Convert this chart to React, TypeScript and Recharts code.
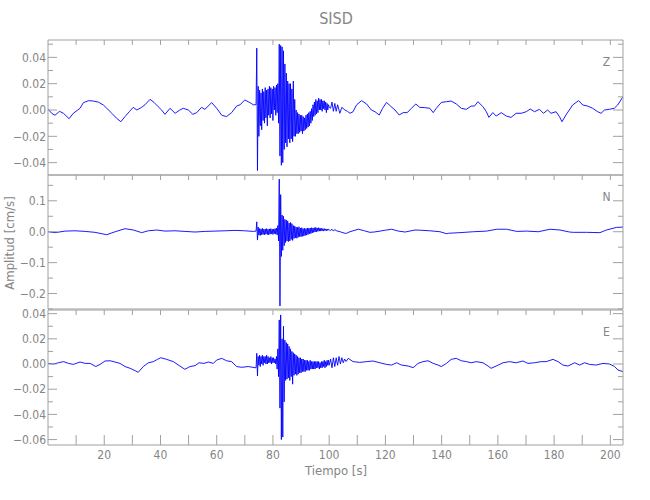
import { LineChart, Line, XAxis, YAxis } from "recharts";

const BLUE = "#0000ff";
const AXIS = "#a0a0a0";
const TEXT = "#858585";
const FONT = "'Liberation Sans Narrow', 'DejaVu Sans Condensed', 'Liberation Sans', sans-serif";

// burst section is sampled every 0.25 s from 74 s
const BURST_START = 74;
const BURST_STEP = 0.25;
const T_MAX = 204.5;

const xTicks = [10, 20, 30, 40, 50, 60, 70, 80, 90, 100, 110, 120, 130, 140, 150, 160, 170, 180, 190, 200];
const xLabeled = [20, 40, 60, 80, 100, 120, 140, 160, 180, 200];

const zTicks = [-0.04, -0.03, -0.02, -0.01, 0, 0.01, 0.02, 0.03, 0.04, 0.05];
const zLabeled = [-0.04, -0.02, 0, 0.02, 0.04];
const nTicks = [-0.25, -0.2, -0.15, -0.1, -0.05, 0, 0.05, 0.1, 0.15];
const nLabeled = [-0.2, -0.1, 0, 0.1];
const eTicks = [-0.06, -0.05, -0.04, -0.03, -0.02, -0.01, 0, 0.01, 0.02, 0.03, 0.04];
const eLabeled = [-0.06, -0.04, -0.02, 0, 0.02, 0.04];

// ---- Z component ----
const zPre: [number, number][] = [
  [0, 0.0008], [1.3, -0.0025], [2.5, -0.004], [4.1, -0.001], [5.5, -0.0025], [7.5, -0.0066], [9, -0.0025],
  [11.4, 0.0013], [12.6, 0.0056], [14.4, 0.0071], [16.1, 0.0068], [17.9, 0.006], [19.7, 0.0038], [20.9, 0.0013],
  [22.7, -0.0025], [24.4, -0.0063], [25.9, -0.0089], [27.4, -0.005], [28.9, -0.0013], [30.3, 0.002], [31.6, 0],
  [33.3, 0.002], [34.5, 0.004], [36.3, 0.0081], [37.7, 0.0058], [39.2, 0.0025], [40.4, 0], [41.6, -0.0033],
  [43.4, 0.0013], [45.2, -0.0025], [46.9, 0], [48.1, 0.0013], [49.9, 0], [51.5, -0.0033], [52.9, -0.002],
  [54.6, 0.002], [55.8, 0.0005], [58.2, 0.0056], [60, 0.0013], [61.8, -0.004], [63.5, -0.005], [65.3, -0.002],
  [67.1, 0.003], [68.3, 0.004], [70, 0.0076], [71.8, 0.0056], [73, 0.004],
];
const zBurst = [
  0.004, 0.047, -0.046, 0.018,
  -0.02, 0.015, -0.012, 0.013,
  -0.015, 0.016, -0.008, 0.014,
  -0.01, 0.017, -0.006, 0.015,
  -0.012, 0.016, -0.004, 0.018,
  -0.006, 0.017, -0.003, 0.016,
  -0.008, 0.018, 0.0, 0.017,
  -0.004, 0.019, -0.002, 0.02,
  -0.01, 0.05, -0.035, 0.049,
  -0.042, 0.048, -0.04, 0.045,
  -0.03, 0.035, -0.025, 0.028,
  -0.028, 0.022, -0.022, 0.02,
  -0.025, 0.02, -0.022, 0.016,
  -0.024, 0.022, -0.02, 0.008,
  -0.02, 0.0, -0.018, -0.002,
  -0.018, -0.003, -0.017, -0.004,
  -0.016, -0.004, -0.018, -0.005,
  -0.016, -0.006, -0.015, -0.004,
  -0.014, -0.003, -0.013, -0.002,
  -0.012, -0.001, -0.01, 0.001,
  -0.008, 0.004, -0.005, 0.006,
  -0.004, 0.008, -0.003, 0.007,
  -0.002, 0.009, 0.0, 0.008,
  0.0, 0.008, -0.001, 0.007,
  0.001, 0.007, 0.0, 0.006,
  -0.002, 0.005, 0.0, 0.004,
  0.002,
];
const zPost: [number, number][] = [
  [100.5, 0.0013], [101, 0.006], [101.5, -0.001], [102, 0.005], [102.5, -0.001], [103, 0.004], [103.8, -0.0025],
  [104.5, 0.002], [105.6, 0], [106.5, -0.001], [107.4, -0.0025], [108.5, -0.0013], [109.7, 0.0038], [111.5, 0.0071],
  [113.3, 0.0046], [115, 0], [116.3, -0.0013], [117.8, -0.0038], [119, 0.0013], [120.4, 0.0058], [121.8, 0.003],
  [123.4, 0], [124.9, -0.0038], [126.3, -0.002], [127.7, -0.002], [129.3, 0.0013], [130.8, 0.0046], [132.2, 0.002],
  [134, 0.0018], [135.8, 0.0013], [137, -0.002], [138.1, 0.0013], [139.9, 0.0058], [141.7, 0.0063], [143.4, 0.0068],
  [145.2, 0.0046], [147, 0.0013], [148.8, 0.0005], [150.5, 0.003], [151.7, 0.003], [152.9, 0.0063], [154.7, 0.0025],
  [155.9, -0.0013], [156.8, -0.0056], [158.2, -0.002], [159.4, -0.0046], [161.2, -0.002], [163, -0.0046],
  [164.7, -0.0056], [166.5, -0.0025], [168.3, -0.0025], [170.1, -0.0013], [171.5, 0.0008], [173, -0.0013],
  [174.8, 0.0005], [176.2, -0.0025], [177.7, 0], [178.9, -0.0025], [180.7, -0.0013], [181.9, -0.005], [182.8, -0.0089],
  [184.2, -0.0038], [186.6, 0.0038], [188.7, 0.0071], [190.2, 0.0038], [191.9, 0.003], [193.7, 0.0013],
  [195.5, -0.0013], [196.7, -0.0025], [197.9, 0], [199.6, 0.0005], [201.4, 0.0013], [202.6, 0.0038], [204.5, 0.0101],
];

// ---- N component ----
const nPre: [number, number][] = [
  [0, 0], [2.5, -0.003], [6.1, 0.002], [9.6, 0.003], [13.2, 0.001], [16.7, -0.002], [20.9, -0.0096], [23.9, 0],
  [27.4, 0.0098], [30.4, 0.0055], [33.3, -0.003], [35.7, 0.003], [38.7, 0.0055], [41.6, 0.002], [45.2, 0.003],
  [48.7, 0.001], [52.3, -0.001], [55.8, 0.001], [59.4, 0.002], [63, 0.003], [66.5, 0.0044], [70, 0.003], [73, 0.001],
];
const nBurst = [
  0.002, 0.032, -0.027, 0.015,
  -0.011, 0.01, -0.012, 0.009,
  -0.01, 0.011, -0.009, 0.008,
  -0.01, 0.009, -0.008, 0.01,
  -0.009, 0.008, -0.01, 0.009,
  -0.008, 0.01, -0.007, 0.008,
  -0.009, 0.009, -0.006, 0.01,
  -0.008, 0.012, -0.01, 0.02,
  -0.03, 0.17, -0.24, 0.12,
  -0.08, 0.054, -0.06, 0.05,
  -0.045, 0.04, -0.035, 0.038,
  -0.03, 0.035, -0.032, 0.028,
  -0.03, 0.03, -0.025, 0.026,
  -0.028, 0.02, -0.022, 0.018,
  -0.02, 0.015, -0.021, 0.014,
  -0.018, 0.016, -0.016, 0.012,
  -0.016, 0.013, -0.015, 0.01,
  -0.014, 0.011, -0.012, 0.01,
  -0.011, 0.012, -0.009, 0.011,
  -0.007, 0.012, -0.006, 0.013,
  -0.004, 0.012, -0.002, 0.013,
  -0.001, 0.014, 0.0, 0.012,
  0.001, 0.013, 0.002, 0.012,
  0.002, 0.011, 0.003, 0.01,
  0.002, 0.01, 0.004, 0.009,
  0.003, 0.009, 0.004, 0.008,
  0.006,
];
const nPost: [number, number][] = [
  [100.5, 0.004], [101, 0.008], [101.5, 0.002], [102, 0.007], [102.6, 0.003], [103.5, 0.001], [104.5, -0.002],
  [105.6, -0.005], [106.2, -0.005], [107.4, 0], [108.5, 0.003], [110.4, 0.008], [112.5, 0.003], [114.5, -0.002],
  [116, -0.001], [118.1, 0.002], [120, 0.005], [122.2, 0.008], [124.6, 0.002], [127, -0.001], [130.5, 0.0055],
  [132.2, 0.005], [135.8, 0.003], [139.4, 0], [141.7, -0.0064], [142.4, -0.005], [146.5, -0.003], [151.3, 0],
  [156, 0.002], [159.6, 0.008], [163.1, 0.008], [166.7, 0.001], [170.2, 0.002], [174.4, 0], [178.5, 0.008],
  [182.1, 0.0055], [185.5, -0.001], [186.8, -0.002], [191.5, -0.002], [196.3, -0.003], [198.6, 0.0055],
  [202.2, 0.014], [204.5, 0.015],
];

// ---- E component ----
const ePre: [number, number][] = [
  [0, 0.0005], [1.9, 0], [3.7, 0.001], [5.5, 0.0019], [7.3, 0.0005], [9, -0.0003], [11.4, 0.0016], [13.2, 0.0005],
  [15, 0.0005], [17, -0.002], [18.5, -0.0003], [20.3, 0.0024], [22.1, 0.0026], [23.8, 0.0016], [25.6, 0.0005],
  [27.4, -0.002], [29.2, -0.0034], [31, -0.0053], [32.1, -0.0066], [33.9, -0.002], [35.7, 0.001], [37.5, 0.0019],
  [38.9, 0.0037], [40.1, 0.005], [42.2, 0.0037], [44.6, 0.0019], [46.9, -0.0016], [48.7, -0.0042], [50.5, -0.002],
  [52.3, -0.0013], [53.7, 0.001], [55.5, 0.0005], [57, 0.0016], [58.8, 0.0005], [60, 0.0032], [61.8, 0.0045],
  [63.5, 0.0026], [65.3, 0.0019], [67.1, -0.002], [68.9, -0.0026], [71.2, -0.002], [73.6, -0.0029],
];
const eBurst = [
  -0.003, 0.0085, -0.0095, 0.006,
  -0.001, 0.007, -0.002, 0.006,
  0.0, 0.007, -0.001, 0.006,
  0.001, 0.006, 0.0, 0.007,
  0.0, 0.006, 0.001, 0.005,
  0.001, 0.006, 0.0, 0.005,
  0.001, 0.005, 0.001, 0.004,
  0.0, 0.006, -0.004, 0.012,
  -0.01, 0.035, -0.035, 0.039,
  -0.06, 0.02, -0.058, 0.03,
  -0.03, 0.019, -0.013, 0.017,
  -0.012, 0.016, -0.011, 0.014,
  -0.013, 0.012, -0.01, 0.01,
  -0.016, 0.009, -0.009, 0.008,
  -0.008, 0.007, -0.009, 0.006,
  -0.008, 0.005, -0.007, 0.005,
  -0.007, 0.004, -0.006, 0.004,
  -0.006, 0.003, -0.006, 0.003,
  -0.005, 0.003, -0.005, 0.002,
  -0.005, 0.003, -0.004, 0.002,
  -0.004, 0.002, -0.004, 0.002,
  -0.004, 0.002, -0.003, 0.002,
  -0.003, 0.002, -0.004, 0.001,
  -0.003, 0.002, -0.003, 0.002,
  -0.002, 0.003, -0.003, 0.002,
  -0.002, 0.003, -0.001, 0.003,
  -0.001,
];
const ePost: [number, number][] = [
  [100.5, 0.004], [101, -0.003], [101.5, 0.005], [102, -0.002], [102.5, 0.005], [103, -0.001], [103.5, 0.006],
  [104, 0], [104.5, 0.005], [105, 0.001], [105.5, 0.004], [106, 0.002], [106.8, 0.0045], [108.5, 0.0019],
  [110.9, 0.0013], [113.3, 0.0019], [115.6, 0.0024], [118, 0.001], [120.4, -0.0003], [122.2, -0.0008], [124, 0.001],
  [125.7, -0.0008], [128.1, -0.0016], [129.9, -0.0029], [131.6, 0.0005], [133.4, 0.0019], [135.2, 0.0026],
  [137, 0.0005], [138.7, -0.0008], [139.9, -0.002], [141.7, 0.0005], [143.4, 0.0037], [145.2, 0.0045], [147, 0.0026],
  [148.8, 0.0019], [150.5, 0.001], [152.3, 0.0019], [154.7, 0.001], [156.5, -0.0016], [157.6, -0.0034],
  [159.4, -0.0016], [161.8, 0.001], [164.1, 0.0019], [166.5, 0.001], [168.9, 0.0024], [170.7, 0.0005], [173, 0.001],
  [175.4, 0.0019], [177.2, 0.0019], [179.6, 0.0037], [181.4, 0.0019], [183.1, -0.0008], [184.9, -0.0016],
  [187.3, 0.001], [189.1, -0.0008], [190.8, 0.001], [192.6, -0.0003], [195, -0.0008], [197.4, 0.0005], [199.7, 0],
  [201.5, -0.002], [202.7, -0.0048], [204.5, -0.006],
];

function rows(pre: [number, number][], burst: number[], post: [number, number][]) {
  return [
    ...pre.map(([t, v]) => ({ t, v })),
    ...burst.map((v, i) => ({ t: BURST_START + i * BURST_STEP, v })),
    ...post.map(([t, v]) => ({ t, v })),
  ];
}

const isIn = (list: number[], v: number) => list.some(x => Math.abs(x - v) < 1e-9);
const fmt = (v: number, digits: number) => v.toFixed(digits).replace("-", "\u2212");

const panels = [
  { name: "Z", top: 40, bottom: 175, domain: [-0.0494, 0.0532], ticks: zTicks, labeled: zLabeled, digits: 2, data: rows(zPre, zBurst, zPost) },
  { name: "N", top: 175, bottom: 309, domain: [-0.25, 0.1835], ticks: nTicks, labeled: nLabeled, digits: 1, data: rows(nPre, nBurst, nPost) },
  { name: "E", top: 310, bottom: 445, domain: [-0.0643, 0.0429], ticks: eTicks, labeled: eLabeled, digits: 2, data: rows(ePre, eBurst, ePost) },
];

const PAD = 3;

function Panel({ p, last }: { p: typeof panels[number]; last: boolean }) {
  // top axis is 1px tall; bottom axis is 1px tall except on the last panel, which carries the labels
  const bottomH = last ? 30 : 1;
  const h = p.bottom - p.top + PAD * 2 + (bottomH - 1);
  return (
    <div style={{ position: "absolute", left: 0, top: p.top - PAD }}>
      <LineChart width={650} height={h} data={p.data} margin={{ top: PAD - 1, right: 0, bottom: PAD - 1, left: 0 }}>
        <XAxis
          xAxisId="b" dataKey="t" type="number" domain={[0, T_MAX]} ticks={xTicks} interval={0} allowDataOverflow
          height={bottomH} tickSize={0} tickMargin={0} tickLine={false} axisLine={{ stroke: AXIS }}
          tick={(props: any) => {
            const { x, y, payload } = props;
            if (!last) return <g />;
            return (
              <g>
                <line x1={x} x2={x} y1={y} y2={y - 10} stroke={AXIS} />
                {isIn(xLabeled, payload.value) && (
                  <text x={x} y={y + 14} textAnchor="middle" fill={TEXT} fontSize={12} fontFamily={FONT}>{payload.value}</text>
                )}
              </g>
            );
          }}
        />
        <XAxis
          xAxisId="t" orientation="top" dataKey="t" type="number" domain={[0, T_MAX]} ticks={xTicks} interval={0} allowDataOverflow
          height={1} tickSize={0} tickMargin={0} tickLine={false} axisLine={{ stroke: AXIS }}
          tick={(props: any) => <line x1={props.x} x2={props.x} y1={props.y} y2={props.y + 5} stroke={AXIS} />}
        />
        <YAxis
          yAxisId="l" type="number" domain={p.domain} ticks={p.ticks} interval={0} allowDataOverflow
          width={48} tickSize={0} tickMargin={0} tickLine={false} axisLine={{ stroke: AXIS }}
          tick={(props: any) => {
            const { x, y, payload } = props;
            const major = isIn(p.labeled, payload.value);
            return (
              <g>
                <line x1={x} x2={x + (major ? 9 : 5)} y1={y} y2={y} stroke={AXIS} />
                {major && (
                  <text x={x - 2} y={y} dy="0.35em" textAnchor="end" fill={TEXT} fontSize={12} fontFamily={FONT}>{fmt(payload.value, p.digits)}</text>
                )}
              </g>
            );
          }}
        />
        <YAxis
          yAxisId="r" orientation="right" type="number" domain={p.domain} ticks={p.ticks} interval={0} allowDataOverflow
          width={27} tickSize={0} tickMargin={0} tickLine={false} axisLine={{ stroke: AXIS }}
          tick={(props: any) => {
            const { x, y, payload } = props;
            const major = isIn(p.labeled, payload.value);
            return <line x1={x} x2={x - (major ? 10 : 5)} y1={y} y2={y} stroke={AXIS} />;
          }}
        />
        <Line xAxisId="b" yAxisId="l" type="linear" dataKey="v" stroke={BLUE} strokeWidth={0.9} dot={false} isAnimationActive={false} />
      </LineChart>
    </div>
  );
}

export default function App() {
  return (
    <div style={{ position: "absolute", left: 0, top: 0, width: 650, height: 500, background: "#fff" }}>
      {panels.map((p, i) => <Panel key={p.name} p={p} last={i === panels.length - 1} />)}
      <svg width={650} height={500} style={{ position: "absolute", left: 0, top: 0, pointerEvents: "none" }}>
        <text x={336} y={24} textAnchor="middle" fill={TEXT} fontSize={16} fontFamily={FONT}>SISD</text>
        <text x={336} y={475} textAnchor="middle" fill={TEXT} fontSize={13} fontFamily={FONT}>Tiempo [s]</text>
        <text x={14} y={243} textAnchor="middle" fill={TEXT} fontSize={13} fontFamily={FONT} transform="rotate(-90 14 243)">Amplitud [cm/s]</text>
        {panels.map(p => (
          <text key={p.name} x={606.5} y={p.top + 26} textAnchor="middle" fill={TEXT} fontSize={12} fontFamily={FONT}>{p.name}</text>
        ))}
      </svg>
    </div>
  );
}
